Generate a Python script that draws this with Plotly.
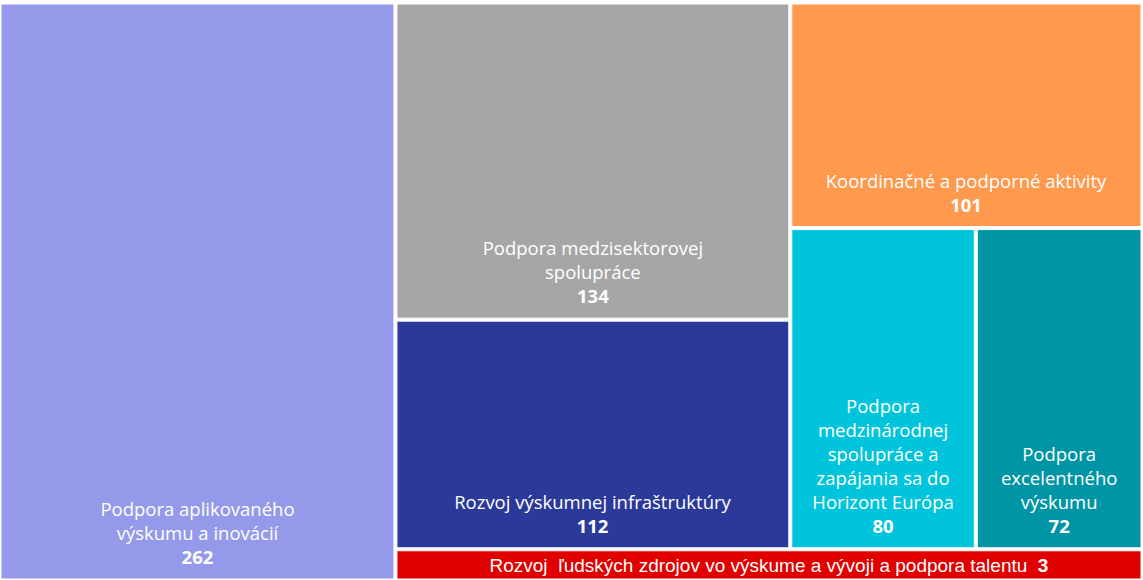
import textwrap
import plotly.graph_objects as go

# ---- data -------------------------------------------------------------
categories = [
    "Podpora aplikovaného výskumu a inovácií",
    "Podpora medzisektorovej spolupráce",
    "Rozvoj výskumnej infraštruktúry",
    "Koordinačné a podporné aktivity",
    "Podpora medzinárodnej spolupráce a zapájania sa do Horizont Európa",
    "Podpora excelentného výskumu",
    "Rozvoj  ľudských zdrojov vo výskume a vývoji a podpora talentu",
]
counts = [262, 134, 112, 101, 80, 72, 3]
# tile areas as drawn in the reference (area weights)
tile_area = [265, 145, 105, 92, 69, 62, 27]

# ---- style ------------------------------------------------------------
colors = ["#9599E9", "#A6A6A6", "#2B3A98", "#FF994D", "#00C4DB", "#0095A5", "#E00000"]
wrap_width = [20, 23, 40, 40, 16, 12, None]
FONT = "Open Sans, sans-serif"
FONT_SIZE = 18.5
STRIP_FONT = "Liberation Sans, Arial, sans-serif"
STRIP_FONT_SIZE = 19
# invisible spacer that lifts bottom-anchored labels a little
SPACER = '<span style="font-size:40px">\u00a0</span>'

# layout grouping (invisible container nodes) used to reproduce the tiling
leaf_parent = ["root", "C1", "C1", "C2", "D", "D", "R"]
group_parent = {"root": "", "R": "root", "T": "R", "C1": "T", "C2": "T", "D": "C2"}
order = ["root", 0, "R", "T", "C1", 1, 2, "C2", 3, "D", 4, 5, 6]

ids, parents, values, node_colors, texts, fams, sizes = [], [], [], [], [], [], []
for item in order:
    if isinstance(item, str):
        ids.append(item)
        parents.append(group_parent[item])
        values.append(0)
        node_colors.append("white")
        texts.append("")
        fams.append(FONT)
        sizes.append(FONT_SIZE)
    else:
        i = item
        ids.append(f"leaf{i}")
        parents.append(leaf_parent[i])
        values.append(tile_area[i])
        node_colors.append(colors[i])
        name = categories[i]
        if wrap_width[i] is None:
            t = name.replace("  ", "\u00a0 ") + "\u00a0 " + f"<b>{counts[i]}</b>"
            fams.append(STRIP_FONT)
            sizes.append(STRIP_FONT_SIZE)
        else:
            t = ("<br>".join(textwrap.wrap(name, wrap_width[i]))
                 + f"<br>{SPACER}<b>{counts[i]}</b>{SPACER}")
            fams.append(FONT)
            sizes.append(FONT_SIZE)
        texts.append(t)

fig = go.Figure(
    go.Treemap(
        ids=ids,
        labels=ids,
        parents=parents,
        values=values,
        branchvalues="remainder",
        sort=False,
        text=texts,
        textinfo="text",
        textposition="bottom center",
        textfont=dict(family=fams, size=sizes, color="white"),
        marker=dict(
            colors=node_colors,
            line=dict(color="white", width=1),
            pad=dict(t=0, l=0, r=0, b=0),
        ),
        tiling=dict(packing="slice-dice", pad=3),
        pathbar=dict(visible=False),
        hoverinfo="skip",
        root=dict(color="white"),
    )
)

fig.update_layout(
    width=1143,
    height=580,
    margin=dict(l=1, r=2, t=4, b=1),
    paper_bgcolor="white",
    plot_bgcolor="white",
)

fig.write_html("out.html")
